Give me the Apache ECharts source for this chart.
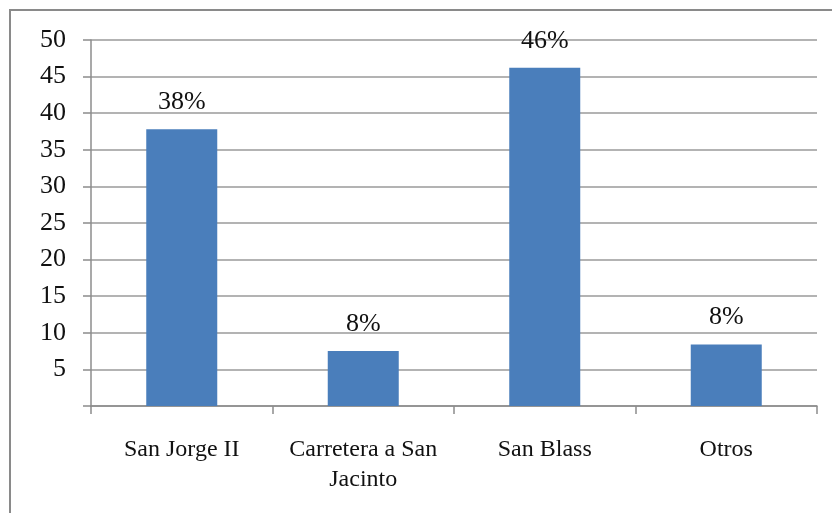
<!DOCTYPE html>
<html><head><meta charset="utf-8">
<script src="https://cdn.jsdelivr.net/npm/echarts@6/dist/echarts.min.js"></script>
<style>html,body{margin:0;padding:0;background:#fff}#c{width:832px;height:513px}</style>
</head><body><div id="c"></div>
<script>
const categories = ['San Jorge II', 'Carretera a San\nJacinto', 'San Blass', 'Otros'];
const values = [37.8, 7.5, 46.2, 8.4];
const labels = ['38%', '8%', '46%', '8%'];
const yTicks = {min: 0, max: 50, interval: 5};

const chart = echarts.init(document.getElementById('c'));
const font = '"Liberation Serif", "Times New Roman", serif';
chart.setOption({
  animation: false,
  graphic: [{
    type: 'rect', shape: {x: 10, y: 10, width: 900, height: 700},
    style: {fill: 'none', stroke: '#8a8a8a', lineWidth: 2}, silent: true
  }],
  grid: {left: 91, right: 15, top: 40, bottom: 107},
  xAxis: {
    type: 'category', data: categories,
    axisLine: {lineStyle: {color: '#8c8c8c', width: 1.5}},
    axisTick: {show: true, length: 8, lineStyle: {color: '#8c8c8c', width: 1.5}},
    axisLabel: {fontFamily: font, fontSize: 24, color: '#111', margin: 29, lineHeight: 30, interval: 0}
  },
  yAxis: {
    type: 'value', min: yTicks.min, max: yTicks.max, interval: yTicks.interval,
    axisLine: {show: true, lineStyle: {color: '#8c8c8c', width: 1.5}},
    axisTick: {show: true, length: 8, lineStyle: {color: '#8c8c8c', width: 1.5}},
    splitLine: {lineStyle: {color: '#9a9a9a', width: 1.5}},
    axisLabel: {fontFamily: font, fontSize: 26, color: '#111', margin: 25,
      formatter: v => v === 0 ? '' : String(v)}
  },
  series: [{
    type: 'bar', data: values, barWidth: 71,
    itemStyle: {color: '#4a7ebb'},
    label: {show: true, position: 'top', distance: 14, fontFamily: font, fontSize: 26, color: '#111',
      formatter: p => labels[p.dataIndex]}
  }]
});
</script></body></html>
